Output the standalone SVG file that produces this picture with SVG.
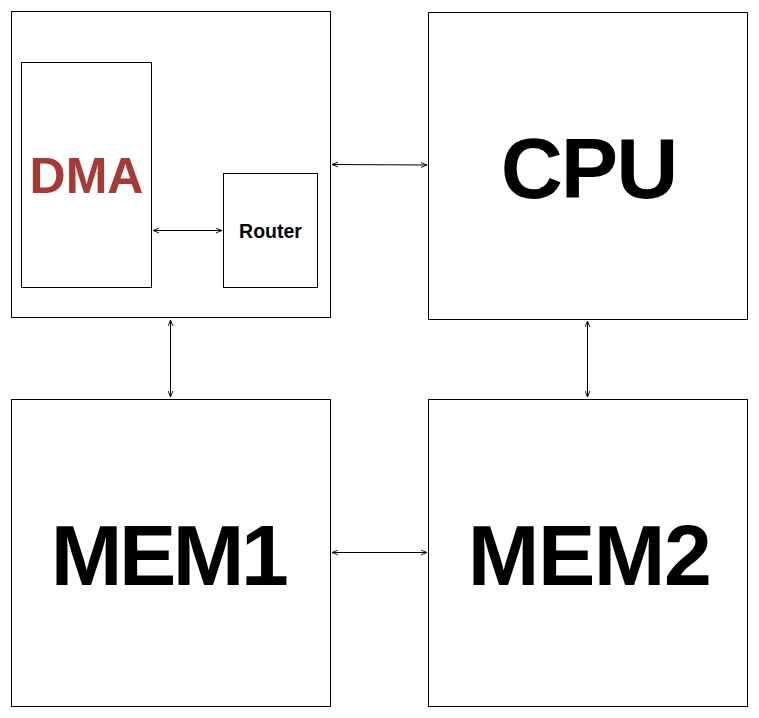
<svg xmlns="http://www.w3.org/2000/svg" width="759" height="718" viewBox="0 0 759 718">
<defs>
<style>
.box{fill:#fff;stroke:#000;stroke-width:1}
.lbl{font-family:"Liberation Sans",Arial,sans-serif;font-weight:bold;text-anchor:middle}
.big{font-size:86px;fill:#000}
.conn{stroke:#000;stroke-width:1;fill:none;marker-start:url(#ah);marker-end:url(#ah)}
</style>
<marker id="ah" viewBox="0 0 10 10" refX="10" refY="5" markerWidth="6" markerHeight="6" markerUnits="userSpaceOnUse" orient="auto-start-reverse">
<path d="M0,1 L10,5 L0,9" fill="none" stroke="#000" stroke-width="1.5"/>
</marker>
</defs>
<rect width="759" height="718" fill="#fff"/>
<g id="soc">
<rect class="box" x="11.5" y="11.5" width="319" height="306"/>
</g>
<g id="dma">
<rect class="box" x="21.5" y="62.5" width="130" height="225"/>
<text class="lbl" x="86.5" y="193" font-size="50" fill="#A83A35">DMA</text>
</g>
<g id="router">
<rect class="box" x="223.5" y="173.5" width="94" height="114"/>
<text class="lbl" x="270.5" y="237.5" font-size="19.5" fill="#000">Router</text>
</g>
<g id="cpu">
<rect class="box" x="428.5" y="12.5" width="319" height="307"/>
<text class="lbl big" x="588.5" y="198" letter-spacing="-2">CPU</text>
</g>
<g id="mem1">
<rect class="box" x="11.5" y="399.5" width="319" height="307"/>
<text class="lbl big" x="168" y="585" letter-spacing="-3.5">MEM1</text>
</g>
<g id="mem2">
<rect class="box" x="428.5" y="399.5" width="319" height="307"/>
<text class="lbl big" x="589" y="585" letter-spacing="-1.5">MEM2</text>
</g>
<g id="connectors">
<line class="conn" x1="153" y1="230.5" x2="222" y2="230.5"/>
<line class="conn" x1="332" y1="164.5" x2="427" y2="165"/>
<line class="conn" x1="332" y1="552.5" x2="427" y2="552.5"/>
<line class="conn" x1="170.5" y1="320" x2="170.5" y2="397"/>
<line class="conn" x1="587.5" y1="321" x2="587.5" y2="397"/>
</g>
</svg>
